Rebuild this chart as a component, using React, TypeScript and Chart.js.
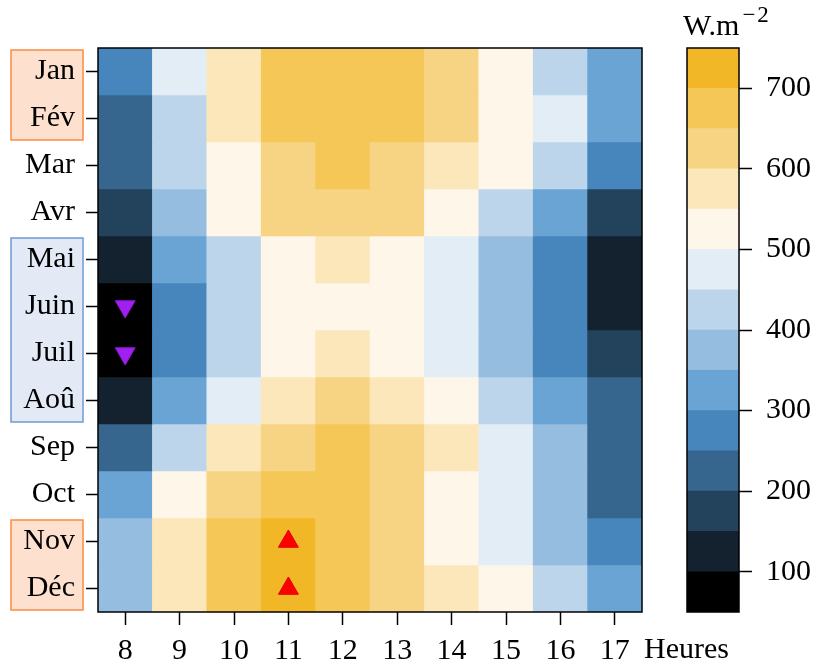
import React, { useEffect, useRef } from 'react';
import { Chart, registerables } from 'chart.js';

Chart.register(...registerables);

// ---------- data ----------
const hours = ['8', '9', '10', '11', '12', '13', '14', '15', '16', '17'];
const months = ['Jan', 'Fév', 'Mar', 'Avr', 'Mai', 'Juin', 'Juil', 'Aoû', 'Sep', 'Oct', 'Nov', 'Déc'];

// irradiance (W.m-2) per hour 8..17
const jan = [275, 475, 575, 675, 675, 675, 625, 525, 425, 325];
const fev = [225, 425, 575, 675, 675, 675, 625, 525, 475, 325];
const mar = [225, 425, 525, 625, 675, 625, 575, 525, 425, 275];
const avr = [175, 375, 525, 625, 625, 625, 525, 425, 325, 175];
const mai = [125, 325, 425, 525, 575, 525, 475, 375, 275, 125];
const juin = [75, 275, 425, 525, 525, 525, 475, 375, 275, 125];
const juil = [75, 275, 425, 525, 575, 525, 475, 375, 275, 175];
const aou = [125, 325, 475, 575, 625, 575, 525, 425, 325, 225];
const sep = [225, 425, 575, 625, 675, 625, 575, 475, 375, 225];
const oct = [325, 525, 625, 675, 675, 625, 525, 475, 375, 225];
const nov = [375, 575, 675, 725, 675, 625, 525, 475, 375, 275];
const dec = [375, 575, 675, 725, 675, 625, 575, 525, 425, 325];
const monthValues = [jan, fev, mar, avr, mai, juin, juil, aou, sep, oct, nov, dec];

const binEdges = [50, 100, 150, 200, 250, 300, 350, 400, 450, 500, 550, 600, 650, 700, 750];
const binColors = [
  '#000000', '#14212f', '#23425c', '#36668e', '#4686bc', '#6aa4d4', '#94bde0',
  '#bcd5ea', '#e3edf6', '#fef6e9', '#fce7bb', '#f6d484', '#f4c757', '#f2b726',
];
const colorbarTicks = [100, 200, 300, 400, 500, 600, 700];

const minMarkers = [
  { hour: '8', month: 'Juin' },
  { hour: '8', month: 'Juil' },
];
const maxMarkers = [
  { hour: '11', month: 'Nov' },
  { hour: '11', month: 'Déc' },
];

const labelGroups = [
  { from: 'Jan', to: 'Fév', fill: '#fde0cd', stroke: '#f98c40' },
  { from: 'Mai', to: 'Aoû', fill: '#e3eaf6', stroke: '#6c9bd6' },
  { from: 'Nov', to: 'Déc', fill: '#fde0cd', stroke: '#f98c40' },
];

const FONT_FAMILY = "'Liberation Serif', 'Times New Roman', serif";
const FONT = { family: FONT_FAMILY, size: 30 };

function colorFor(v: number): string {
  for (let i = 0; i < binColors.length; i++) {
    if (v >= binEdges[i] && v < binEdges[i + 1]) return binColors[i];
  }
  return v < binEdges[0] ? binColors[0] : binColors[binColors.length - 1];
}

// ---------- plugins ----------
const labelBoxPlugin = {
  id: 'labelBoxes',
  beforeDraw(chart: any) {
    const y = chart.scales.y;
    const ctx = chart.ctx;
    ctx.save();
    labelGroups.forEach((g) => {
      const top = y.getPixelForValue(months.indexOf(g.from)) + 2;
      const bot = y.getPixelForValue(months.indexOf(g.to) + 1) - 2;
      ctx.fillStyle = g.fill;
      ctx.strokeStyle = g.stroke;
      ctx.lineWidth = 1.5;
      ctx.fillRect(11, top, 72, bot - top);
      ctx.strokeRect(11, top, 72, bot - top);
    });
    ctx.restore();
  },
};

const framePlugin = {
  id: 'frame',
  afterDatasetsDraw(chart: any) {
    const { left, top, width, height } = chart.chartArea;
    const ctx = chart.ctx;
    ctx.save();
    ctx.strokeStyle = '#000';
    ctx.lineWidth = 1.5;
    ctx.strokeRect(left, top, width, height);
    ctx.restore();
  },
};

const heuresPlugin = {
  id: 'heures',
  afterDraw(chart: any) {
    const { right, bottom } = chart.chartArea;
    const ctx = chart.ctx;
    ctx.save();
    ctx.font = `30px ${FONT_FAMILY}`;
    ctx.fillStyle = '#000';
    ctx.textAlign = 'left';
    ctx.textBaseline = 'alphabetic';
    ctx.fillText('Heures', right + 2, bottom + 46);
    ctx.restore();
  },
};

const cbTitlePlugin = {
  id: 'cbTitle',
  afterDraw(chart: any) {
    const { left } = chart.chartArea;
    const ctx = chart.ctx;
    ctx.save();
    ctx.fillStyle = '#000';
    ctx.textAlign = 'left';
    ctx.textBaseline = 'alphabetic';
    ctx.font = `30px ${FONT_FAMILY}`;
    const x0 = left - 4;
    ctx.fillText('W.m', x0, 35);
    const w = ctx.measureText('W.m').width;
    ctx.font = `23px ${FONT_FAMILY}`;
    ctx.fillText('\u2212', x0 + w + 3, 22);
    const wm = ctx.measureText('\u2212').width;
    ctx.fillText('2', x0 + w + 5 + wm, 22);
    ctx.restore();
  },
};

export default function App() {
  const mainRef = useRef<HTMLCanvasElement>(null);
  const cbRef = useRef<HTMLCanvasElement>(null);

  useEffect(() => {
    const heatDatasets: any[] = monthValues.map((vals, r) => ({
      type: 'bar',
      label: months[r],
      data: vals.map(() => [r, r + 1]),
      backgroundColor: vals.map(colorFor),
      borderWidth: 0,
      barPercentage: 1,
      categoryPercentage: 1,
      grouped: false,
      order: 2,
    }));
    const markerDatasets: any[] = [
      {
        type: 'line',
        label: 'min',
        data: minMarkers.map((m) => ({ x: m.hour, y: months.indexOf(m.month) + 0.5 })),
        showLine: false,
        pointStyle: 'triangle',
        rotation: 180,
        pointRadius: 11.5,
        pointBackgroundColor: '#a020f0',
        pointBorderColor: '#8a18d0',
        pointBorderWidth: 1,
        order: 0,
      },
      {
        type: 'line',
        label: 'max',
        data: maxMarkers.map((m) => ({ x: m.hour, y: months.indexOf(m.month) + 0.5 })),
        showLine: false,
        pointStyle: 'triangle',
        rotation: 0,
        pointRadius: 11.5,
        pointBackgroundColor: '#ff0000',
        pointBorderColor: '#e00000',
        pointBorderWidth: 1,
        order: 0,
      },
    ];

    const main = new Chart(mainRef.current as HTMLCanvasElement, {
      type: 'bar',
      data: { labels: hours, datasets: [...heatDatasets, ...markerDatasets] },
      options: {
        responsive: false,
        animation: false,
        devicePixelRatio: 1,
        layout: { padding: { left: 0, top: 48, right: 174, bottom: 0 } },
        plugins: { legend: { display: false }, tooltip: { enabled: false } },
        scales: {
          x: {
            type: 'category',
            offset: true,
            grid: { offset: false, drawOnChartArea: false, tickLength: 13, color: '#000', tickWidth: 1.5 },
            border: { display: false },
            ticks: { font: FONT, color: '#000', padding: 8, maxRotation: 0, autoSkip: false },
            afterFit: (s: any) => { s.height = 52; },
          },
          y: {
            type: 'linear',
            min: 0,
            max: 12,
            reverse: true,
            afterBuildTicks: (s: any) => { s.ticks = months.map((_, i) => ({ value: i + 0.5 })); },
            grid: { drawOnChartArea: false, tickLength: 12, color: '#000', tickWidth: 1.5 },
            border: { display: false },
            ticks: {
              font: FONT,
              color: '#000',
              padding: 11,
              autoSkip: false,
              callback: (_v: any, i: number) => months[i],
            },
            afterFit: (s: any) => { s.width = 98; },
          },
        },
      } as any,
      plugins: [labelBoxPlugin, framePlugin, heuresPlugin],
    });

    const cb = new Chart(cbRef.current as HTMLCanvasElement, {
      type: 'bar',
      data: {
        labels: [''],
        datasets: binColors.map((c, i) => ({
          data: [[binEdges[i], binEdges[i + 1]]],
          backgroundColor: c,
          borderWidth: 0,
          barPercentage: 1,
          categoryPercentage: 1,
          grouped: false,
        })) as any,
      },
      options: {
        responsive: false,
        animation: false,
        devicePixelRatio: 1,
        layout: { padding: { left: 27, top: 48, right: 0, bottom: 52 } },
        plugins: { legend: { display: false }, tooltip: { enabled: false } },
        scales: {
          x: { display: false },
          y: {
            position: 'right',
            min: 50,
            max: 750,
            afterBuildTicks: (s: any) => { s.ticks = colorbarTicks.map((v) => ({ value: v })); },
            grid: { drawOnChartArea: false, tickLength: 13, color: '#000', tickWidth: 1.5 },
            border: { display: false },
            ticks: { font: FONT, color: '#000', padding: 14 },
            afterFit: (s: any) => { s.width = 77; },
          },
        },
      } as any,
      plugins: [framePlugin, cbTitlePlugin],
    });

    return () => {
      main.destroy();
      cb.destroy();
    };
  }, []);

  return (
    <div style={{ position: 'fixed', left: 0, top: 0, width: 816, height: 664, background: '#fff' }}>
      <canvas ref={mainRef} width={816} height={664} style={{ position: 'absolute', left: 0, top: 0, display: 'block' }} />
      <canvas ref={cbRef} width={156} height={664} style={{ position: 'absolute', left: 660, top: 0, display: 'block' }} />
    </div>
  );
}
